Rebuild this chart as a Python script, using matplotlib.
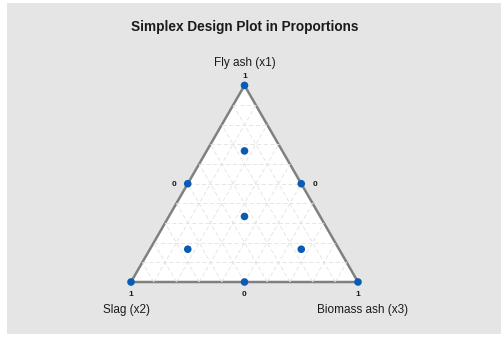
import numpy as np
import matplotlib.pyplot as plt
from matplotlib.patches import Polygon, Rectangle

# Design points as proportions (x1 = fly ash, x2 = slag, x3 = biomass ash)
fly_ash = [1.0, 0.0, 0.0, 0.5, 0.5, 0.0, 0.3333, 0.6667, 0.1667, 0.1667]
slag = [0.0, 1.0, 0.0, 0.5, 0.0, 0.5, 0.3333, 0.1667, 0.6667, 0.1667]
biomass_ash = [0.0, 0.0, 1.0, 0.0, 0.5, 0.5, 0.3333, 0.1667, 0.1667, 0.6667]

vertex_names = ["Fly ash (x1)", "Slag (x2)", "Biomass ash (x3)"]
grid_steps = np.arange(0.1, 1.0, 0.1)

plt.rcParams['font.family'] = ['Liberation Sans', 'DejaVu Sans']


def to_xy(a, b, c):
    # a at top, b bottom-left, c bottom-right
    a = np.asarray(a, dtype=float)
    c = np.asarray(c, dtype=float)
    return c + a / 2.0, a * np.sqrt(3) / 2.0


fig = plt.figure(figsize=(5.01, 3.37), dpi=100)
fig.patch.set_facecolor('white')
fig.add_artist(Rectangle((7 / 501, 3 / 337), 494 / 501, 331 / 337,
                         transform=fig.transFigure, facecolor='#e5e5e5',
                         edgecolor='none', zorder=0))

ax = fig.add_axes([0, 0, 1, 1])
ax.set_facecolor('none')
scale = 227.0
ax.set_xlim(-131 / scale, (501 - 131) / scale)
ax.set_ylim((282 - 337) / scale, 282 / scale)
ax.axis('off')

h = np.sqrt(3) / 2
tri = Polygon([(0, 0), (1, 0), (0.5, h)], closed=True, facecolor='white',
              edgecolor='#808080', linewidth=1.8, zorder=2)
ax.add_patch(tri)

# dashed grid parallel to each side
for t in grid_steps:
    for p, q in [((t, 1 - t, 0), (t, 0, 1 - t)),
                 ((0, t, 1 - t), (1 - t, t, 0)),
                 ((0, 1 - t, t), (1 - t, 0, t))]:
        xs, ys = to_xy([p[0], q[0]], [p[1], q[1]], [p[2], q[2]])
        ax.plot(xs, ys, color='#e2e2e2', linewidth=0.6, linestyle=(0, (5, 3)),
                zorder=3)

px, py = to_xy(fly_ash, slag, biomass_ash)
ax.scatter(px, py, s=30, color='#0a5bb5', edgecolors='none', zorder=5,
           clip_on=False)

# value labels
tick_kw = dict(fontsize=6, fontweight='bold', color='#1a1a1a', zorder=6,
               ha='center', va='center')
ax.text(0.5, h + 0.038, "1", **tick_kw)
ax.text(0.25 - 0.06, h / 2 - 0.004, "0", **tick_kw)
ax.text(0.75 + 0.06, h / 2 - 0.004, "0", **tick_kw)
ax.text(0.0, -0.053, "1", **tick_kw)
ax.text(0.5, -0.053, "0", **tick_kw)
ax.text(1.0, -0.053, "1", **tick_kw)

name_kw = dict(fontsize=8.5, color='#1a1a1a', ha='center', va='center')
ax.text(0.5, h + 0.098, vertex_names[0], **name_kw)
ax.text(-0.018, -0.124, vertex_names[1], **name_kw)
ax.text(1.018, -0.124, vertex_names[2], **name_kw)

fig.text(245 / 501, 1 - 27 / 337, "Simplex Design Plot in Proportions",
         ha='center', va='center', fontsize=9.8, fontweight='bold',
         color='#1a1a1a')

plt.savefig("out.png", dpi=100)
